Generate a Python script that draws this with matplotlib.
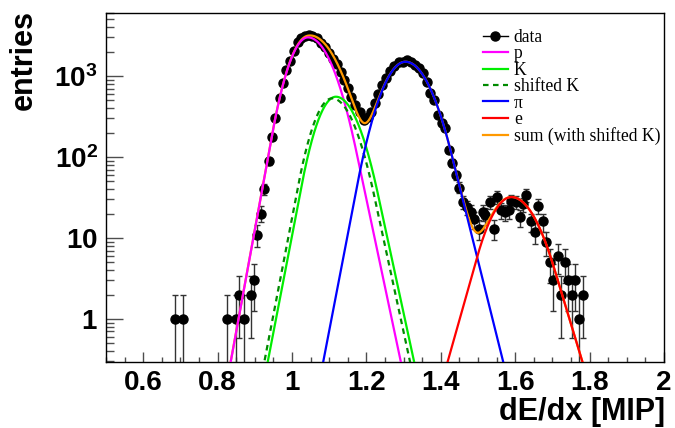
import numpy as np
import matplotlib
matplotlib.use('Agg')
import matplotlib.pyplot as plt
from matplotlib.lines import Line2D
from matplotlib.ticker import LogLocator, FixedLocator, MultipleLocator, NullFormatter

plt.rcParams['font.family'] = 'Liberation Sans'
plt.rcParams['mathtext.fontset'] = 'custom'
plt.rcParams['mathtext.rm'] = 'Liberation Sans:bold'
plt.rcParams['mathtext.it'] = 'Liberation Sans:bold'
plt.rcParams['mathtext.bf'] = 'Liberation Sans:bold'

# measured dE/dx spectrum (bin centre, entries)
dedx = [0.686, 0.707, 0.826, 0.849, 0.858, 0.871, 0.889, 0.898, 0.907, 0.916,
        0.925, 0.937, 0.946, 0.955, 0.967, 0.975, 0.985, 0.995, 1.005, 1.016,
        1.025, 1.035, 1.045, 1.055, 1.066, 1.077, 1.088, 1.100, 1.110, 1.120,
        1.131, 1.141, 1.150, 1.159, 1.170, 1.182, 1.193, 1.203, 1.213, 1.222,
        1.232, 1.243, 1.253, 1.263, 1.275, 1.287, 1.299, 1.310, 1.320, 1.331,
        1.342, 1.352, 1.362, 1.372, 1.382, 1.392, 1.402, 1.412, 1.421, 1.431,
        1.440, 1.450, 1.460, 1.470, 1.480, 1.490, 1.502, 1.513, 1.520, 1.531,
        1.543, 1.552, 1.563, 1.572, 1.582, 1.590, 1.601, 1.612, 1.621, 1.630,
        1.642, 1.653, 1.662, 1.675, 1.684, 1.693, 1.702, 1.714, 1.723, 1.734,
        1.743, 1.753, 1.762, 1.771, 1.783]
entries = [1, 1, 1, 1, 2, 1, 2, 3, 11, 20,
           40, 88, 178, 300, 531, 813, 1186, 1540, 2020, 2600,
           2920, 3100, 3250, 3140, 2920, 2530, 2260, 1900, 1600, 1400,
           1130, 900, 705, 555, 440, 363, 286, 316, 360, 470,
           600, 774, 940, 1160, 1340, 1480, 1500, 1560, 1480, 1380,
           1260, 1080, 850, 611, 500, 330, 262, 226, 122, 84,
           60, 42, 28, 24, 21, 17, 13, 21, 19, 28,
           13, 32, 22, 21, 22, 29, 28, 18, 26, 34,
           16, 12, 25, 16, 9, 5, 3, 6, 2, 5,
           3, 2, 3, 1, 2]

# fitted components (gauss core + exponential tails)
comp_labels = ['p', 'K', 'shifted K', 'π', 'e']
comp_mean = [1.043, 1.118, 1.108, 1.305, 1.590]
comp_amp = [3000, 555, 530, 1500, 32]
comp_sig_lo = [0.041, 0.041, 0.041, 0.049, 0.050]
comp_sig_hi = [0.051, 0.048, 0.048, 0.054, 0.057]
comp_tail_lo = [58, 55, 55, 55, 37.5]
comp_tail_hi = [50, 49, 49, 42.5, 35]
comp_colors = ['#ff00ff', '#00ee00', '#008a00', '#0000ff', '#ff0000']
comp_styles = ['-', '-', (0, (2.5, 2)), '-', '-']
sum_parts = [0, 2, 3, 4]   # p + shifted K + pi + e


def gaussexp(x, mu, amp, slo, shi, tlo, thi):
    d = x - mu
    a = np.abs(d)
    sig = np.where(d < 0, slo, shi)
    t = np.where(d < 0, tlo, thi)
    core = 0.5 * (a / sig) ** 2
    tail = t * a - 0.5 * (t * sig) ** 2
    return amp * np.exp(-np.where(a < t * sig ** 2, core, tail))


fig = plt.figure(figsize=(6.75, 4.28), dpi=100)
ax = fig.add_axes([106 / 675, 1 - 362 / 428, 558 / 675, 349 / 428])

n = np.array(entries, dtype=float)
err = np.sqrt(n)
lo = n - np.maximum(n - err, 1e-3)
ax.errorbar(dedx, n, yerr=[lo, err], fmt='o', color='black', ms=6.5,
            ecolor='0.2', elinewidth=1.0, capsize=2.5, capthick=1.0, zorder=2)

xs = np.linspace(0.5, 2.0, 3000)
curves = [gaussexp(xs, comp_mean[i], comp_amp[i], comp_sig_lo[i], comp_sig_hi[i],
                   comp_tail_lo[i], comp_tail_hi[i]) for i in range(len(comp_mean))]
total = sum(curves[i] for i in sum_parts)
ax.plot(xs, total, color='#ff9900', lw=1.6, zorder=3)
for i in range(len(curves)):
    ax.plot(xs, curves[i], color=comp_colors[i], ls=comp_styles[i], lw=1.6, zorder=4)

ax.set_yscale('log')
ax.set_xlim(0.5, 2.0)
ax.set_ylim(0.294, 6000)

ax.xaxis.set_minor_locator(MultipleLocator(0.05))
ax.set_xticks([0.6, 0.8, 1.0, 1.2, 1.4, 1.6, 1.8, 2.0])
ax.set_xticklabels(['0.6', '0.8', '1', '1.2', '1.4', '1.6', '1.8', '2'])
ax.yaxis.set_major_locator(FixedLocator([1, 10, 100, 1000]))
ax.set_yticklabels([r'$1$', r'$10$', r'$10^{2}$', r'$10^{3}$'])
ax.yaxis.set_minor_locator(LogLocator(base=10, subs=range(2, 10)))
ax.yaxis.set_minor_formatter(NullFormatter())

ax.tick_params(axis='x', which='major', direction='in', length=7, width=1, color='0.3', pad=6)
ax.tick_params(axis='x', which='minor', direction='in', length=3.6, width=1, color='0.3')
ax.tick_params(axis='y', which='major', direction='in', length=12, width=1, color='0.3', pad=6)
ax.tick_params(axis='y', which='minor', direction='in', length=6, width=1, color='0.3')
ax.tick_params(labelsize=20)
for lab in ax.get_xticklabels():
    lab.set_fontweight('bold')
for s in ax.spines.values():
    s.set_linewidth(1.0)

fig.text(24 / 675, 1 - 10 / 428, 'entries', rotation=90, ha='center', va='top',
         fontsize=22, fontweight='bold')
fig.text(665 / 675, 1 - 420 / 428, 'dE/dx [MIP]', ha='right', va='baseline',
         fontsize=22, fontweight='bold')

handles = [Line2D([], [], color='black', marker='o', ms=6.5, lw=1)]
for i in range(len(comp_labels)):
    handles.append(Line2D([], [], color=comp_colors[i], ls=comp_styles[i], lw=1.6))
handles.append(Line2D([], [], color='#ff9900', lw=1.6))
labels = ['data'] + comp_labels + ['sum (with shifted K)']
ax.legend(handles, labels, loc='upper left', bbox_to_anchor=((483 - 106) / 558, 1 - 16 / 349),
          frameon=False, borderpad=0, borderaxespad=0, handlelength=1.4,
          handletextpad=0.35, labelspacing=-0.035,
          prop={'family': 'Liberation Serif', 'size': 12.7})

fig.savefig('out.png', dpi=100)
